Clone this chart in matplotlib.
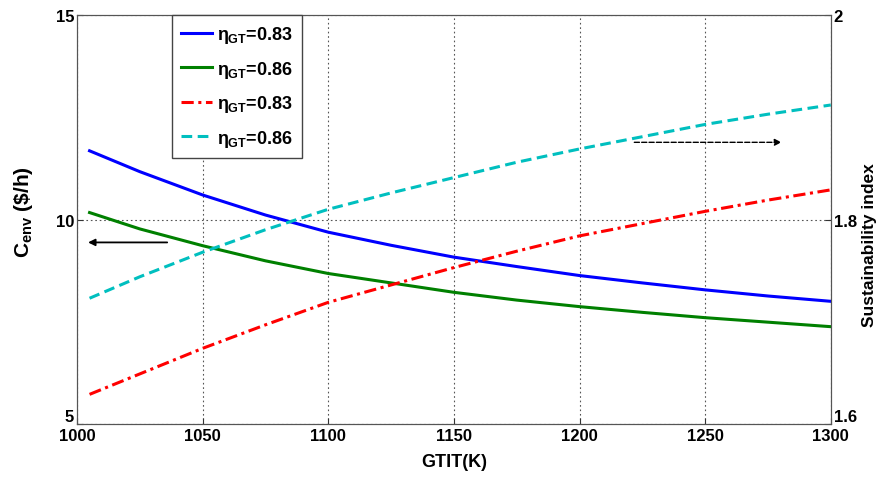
import matplotlib.pyplot as plt

plt.rcParams['font.family'] = ['Liberation Sans', 'DejaVu Sans']
plt.rcParams['font.weight'] = 'bold'
plt.rcParams['mathtext.fontset'] = 'custom'
plt.rcParams['mathtext.rm'] = 'Liberation Sans:bold'
plt.rcParams['mathtext.it'] = 'Liberation Sans'
plt.rcParams['mathtext.bf'] = 'Liberation Sans:bold'

# GTIT values (K)
gtit = [1005, 1025, 1050, 1075, 1100, 1125, 1150, 1175, 1200, 1225, 1250, 1275, 1300]

# environmental cost, left axis ($/h)
cenv_083 = [11.68, 11.17, 10.60, 10.11, 9.69, 9.37, 9.08, 8.85, 8.63, 8.45, 8.28, 8.13, 8.00]
cenv_086 = [10.17, 9.77, 9.36, 8.99, 8.68, 8.45, 8.22, 8.03, 7.87, 7.73, 7.60, 7.49, 7.38]

# sustainability index, right axis
si_083 = [1.629, 1.649, 1.674, 1.697, 1.719, 1.736, 1.753, 1.769, 1.784, 1.796, 1.808, 1.819, 1.829]
si_086 = [1.723, 1.744, 1.768, 1.790, 1.810, 1.826, 1.841, 1.856, 1.869, 1.881, 1.893, 1.903, 1.912]

labels = [r'$\eta_{\mathbf{GT}}$=0.83', r'$\eta_{\mathbf{GT}}$=0.86',
          r'$\eta_{\mathbf{GT}}$=0.83', r'$\eta_{\mathbf{GT}}$=0.86']

fig = plt.figure(figsize=(8.81, 4.81), dpi=100)
ax = fig.add_axes([0.0874, 0.1164, 0.8556, 0.8503])
ax2 = ax.twinx()

l1, = ax.plot(gtit, cenv_083, color='#0000ff', lw=2.2)
l2, = ax.plot(gtit, cenv_086, color='#008000', lw=2.2)
l3, = ax2.plot(gtit, si_083, color='#ff0000', lw=2.2, ls=(0, (4, 1.5, 1, 1.5)))
l4, = ax2.plot(gtit, si_086, color='#00bfbf', lw=2.2, ls=(0, (3.5, 1.8)))

ax.set_xlim(1000, 1300)
ax.set_ylim(5, 15)
ax2.set_ylim(1.6, 2)
ax.set_xticks([1000, 1050, 1100, 1150, 1200, 1250, 1300])
ax.set_yticks([5, 10, 15])
ax2.set_yticks([1.6, 1.8, 2])
ax2.set_yticklabels(['1.6', '1.8', '2'])

ax.grid(True, color='#555555', ls=(0, (1.5, 2.5)), lw=0.8)
for a in (ax, ax2):
    a.tick_params(direction='in', length=4, labelsize=12, width=0.8, colors='#333333',
                  labelcolor='black')
    for s in a.spines.values():
        s.set_color('#555555')
ax.tick_params(axis='x', pad=3)
ax.tick_params(axis='y', pad=2)
ax2.tick_params(axis='y', pad=2)
# lowest y labels sit above the corner, as in the original
ax.get_yticklabels()[0].set_verticalalignment('bottom')
ax2.get_yticklabels()[0].set_verticalalignment('bottom')

ax.set_xlabel('GTIT(K)', fontsize=13, fontweight='bold', labelpad=7)
ax.set_ylabel(r'C$_{\mathbf{env}}$ (\$/h)', fontsize=15, fontweight='bold')
ax.yaxis.set_label_coords(-0.056, 0.52)
ax2.set_ylabel('Sustainability index', fontsize=12.5, fontweight='bold')
ax2.yaxis.set_label_coords(1.042, 0.44)

# arrows pointing to the axes
ax.annotate('', xy=(1003.3, 9.44), xytext=(1037, 9.44),
            arrowprops=dict(arrowstyle='-|>', color='black', lw=1.3, mutation_scale=10))
ax2.annotate('', xy=(1281.5, 1.8755), xytext=(1220.7, 1.8755),
             arrowprops=dict(arrowstyle='-|>', color='black', lw=1.0, ls='--',
                             mutation_scale=10))

leg = ax2.legend([l1, l2, l3, l4], labels, loc='upper left',
                 bbox_to_anchor=(0.126, 1.0), borderaxespad=0, fontsize=13,
                 frameon=True, fancybox=False, edgecolor='#444444',
                 handlelength=1.7, handletextpad=0.3, borderpad=0.5,
                 labelspacing=0.75, framealpha=1)
leg.get_frame().set_linewidth(1.0)

fig.savefig('out.png', dpi=100)
